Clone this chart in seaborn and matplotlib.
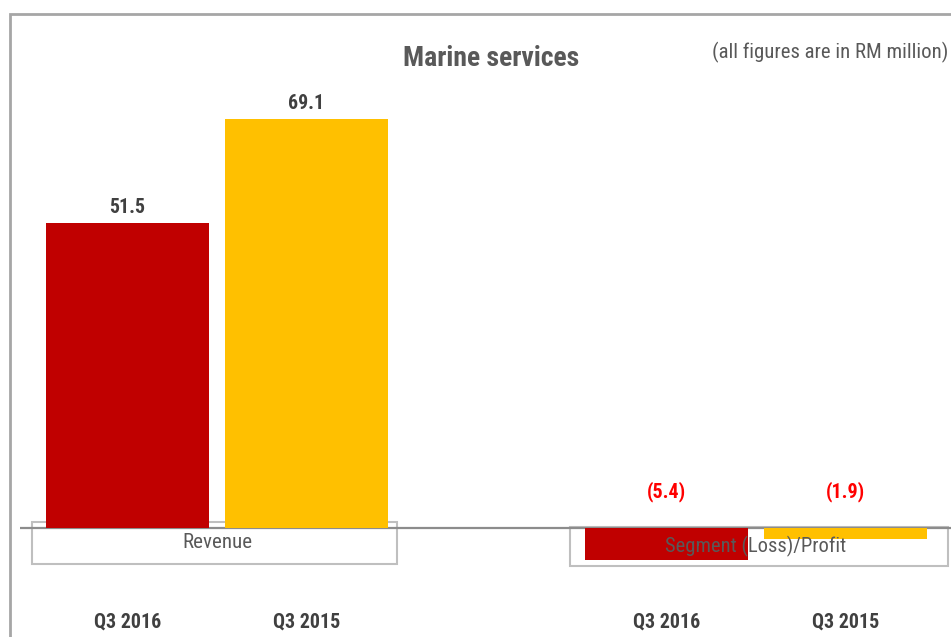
import matplotlib
matplotlib.use("Agg")
import matplotlib.pyplot as plt
from matplotlib.patches import Rectangle
from matplotlib import font_manager
import seaborn as sns
import pandas as pd

# ---- data ----
metrics = ["Revenue", "Segment (Loss)/Profit"]
periods = ["Q3 2016", "Q3 2015"]
q3_2016 = [51.5, -5.4]
q3_2015 = [69.1, -1.9]
colors = ["#C00000", "#FFC000"]

rows = []
for i, m in enumerate(metrics):
    rows.append({"metric": m, "period": periods[0], "value": q3_2016[i]})
    rows.append({"metric": m, "period": periods[1], "value": q3_2015[i]})
df = pd.DataFrame(rows)

sns.set_theme(style="white")


def available(name):
    try:
        font_manager.findfont(font_manager.FontProperties(family=name),
                              fallback_to_default=False)
        return True
    except Exception:
        return False


candidates = ["Liberation Sans Narrow", "DejaVu Sans Condensed", "Roboto Condensed",
              "Open Sans Condensed", "Liberation Sans"]
chosen = next((c for c in candidates if available(c)), "DejaVu Sans")
plt.rcParams["font.family"] = [chosen, "DejaVu Sans"]

W, H = 951, 637
fig = plt.figure(figsize=(W / 100, H / 100), dpi=100)
ax = fig.add_axes([20 / W, 47 / H, (W - 20) / W, (590 - 14) / H])

sns.barplot(data=df, x="metric", y="value", hue="period", hue_order=periods,
            order=metrics, palette=colors, saturation=1, width=0.664, gap=0.09,
            linewidth=0, edgecolor="none", ax=ax, legend=False, zorder=3)

ax.set_xlim(-0.3655, 1.362)
ax.set_ylim(-10.47, 86.8)
for s in ax.spines.values():
    s.set_visible(False)
ax.set_yticks([])
ax.set_xlabel("")
ax.set_ylabel("")
ax.axhline(0, color="#8C8C8C", lw=1.6, zorder=2)

renderer = fig.canvas.get_renderer()


def fit(t, target_px):
    w = t.get_window_extent(renderer).width
    if w > 0:
        t.set_fontsize(t.get_fontsize() * target_px / w)


# bar labels and per-bar tick labels
centers, ticklabels = [], []
vals_by_bar = []
for j, p in enumerate(periods):
    vals = q3_2016 if j == 0 else q3_2015
    for i in range(len(metrics)):
        vals_by_bar.append((i, j, vals[i]))
patches = [pt for pt in ax.patches if isinstance(pt, Rectangle) and pt.get_width() > 0]
for pt, (i, j, v) in zip(patches, vals_by_bar):
    cx = pt.get_x() + pt.get_width() / 2
    centers.append(cx)
    ticklabels.append(periods[j])
    if v >= 0:
        t = ax.annotate(f"{v:.1f}", (cx, v), xytext=(0, 11), textcoords="offset points",
                        ha="center", va="center", fontsize=13, fontweight="bold",
                        color="#404040")
        fit(t, 36)
    else:
        t = ax.annotate(f"({abs(v):.1f})", (cx, 0), xytext=(0, 26), textcoords="offset points",
                        ha="center", va="center", fontsize=13, fontweight="bold",
                        color="#FF0000")
        fit(t, 39)

ax.set_xticks(centers)
ax.set_xticklabels(ticklabels, fontsize=13, fontweight="bold", color="#404040")
ax.tick_params(axis="x", length=0, pad=16)
tl0 = ax.get_xticklabels()[0]
scale_w = 67 / tl0.get_window_extent(renderer).width
for tl in ax.get_xticklabels():
    tl.set_fontsize(13 * scale_w)

# category boxes
box_x = [(-0.343, 0.334), (-0.345, 0.357)]
box_y = [(-6.0, 1.0), (-6.4, 0.2)]
text_w = [70, 179]
for i, m in enumerate(metrics):
    x0, x1 = box_x[i]
    y0, y1 = box_y[i]
    ax.add_patch(Rectangle((i + x0, y0), x1 - x0, y1 - y0, facecolor="white",
                           edgecolor="#BFBFBF", lw=1.5, zorder=1))
    t = ax.text(i, (y0 + y1) / 2, m, ha="center", va="center", fontsize=13,
                color="#595959", zorder=4)
    fit(t, text_w[i])

t = fig.text(491 / W, 1 - 58 / H, "Marine services", ha="center", va="center",
             fontsize=18, fontweight="bold", color="#595959")
fit(t, 177)
t = fig.text(948 / W, 1 - 52 / H, "(all figures are in RM million)", ha="right",
             va="center", fontsize=13, color="#595959")
fit(t, 235)

# outer frame
fig.patches.append(Rectangle((10 / W, -0.1), 1.2, 1 - 14 / H + 0.1, transform=fig.transFigure,
                             fill=False, edgecolor="#A6A6A6", lw=2, figure=fig))

fig.savefig("out.png", dpi=100)
